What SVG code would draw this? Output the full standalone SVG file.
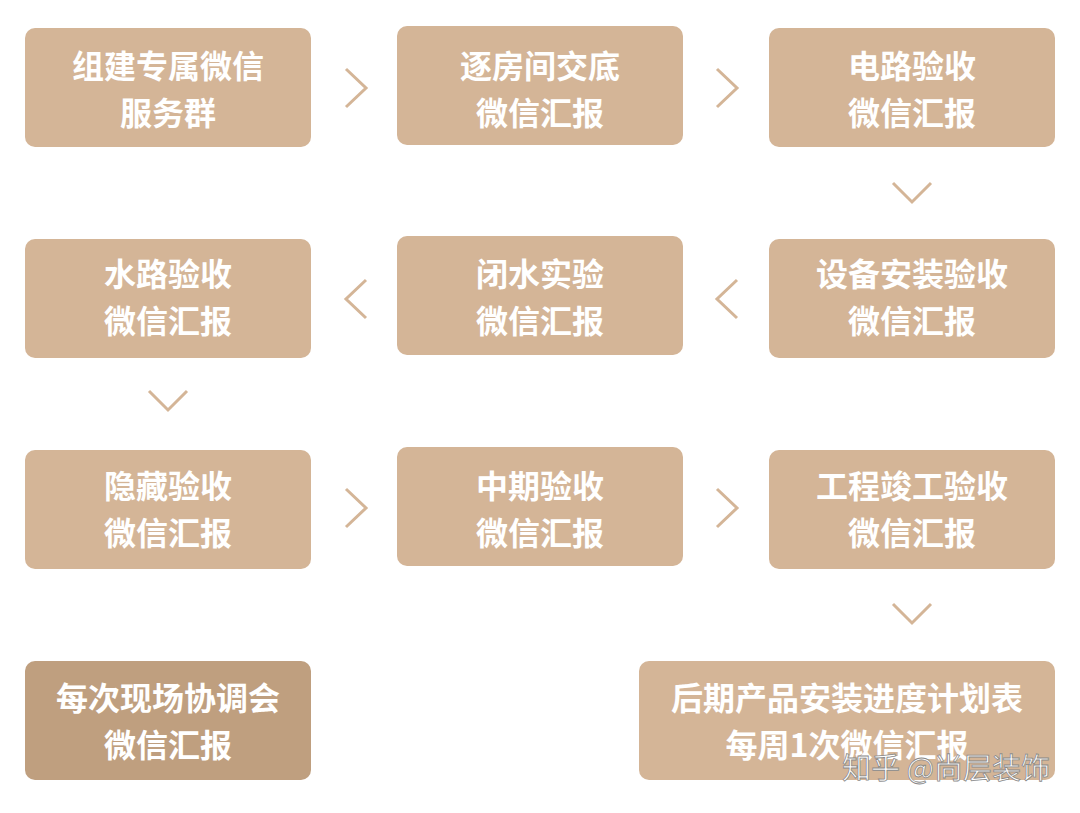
<svg xmlns="http://www.w3.org/2000/svg" width="1080" height="813" viewBox="0 0 1080 813">
<style>
.b{fill:#d4b597}
.d{fill:#bf9f7f}
.t{fill:#fff;font-family:"Noto Sans CJK SC",sans-serif;font-weight:bold;font-size:32px;text-anchor:middle}
.c{fill:none;stroke:#d4b597;stroke-width:3}
</style>
<rect width="1080" height="813" fill="#fff"/>
<g id="n1"><rect class="b" x="25" y="28" width="286" height="119" rx="10"/><text class="t" x="168" y="78">组建专属微信</text><text class="t" x="168" y="125">服务群</text></g>
<g id="n2"><rect class="b" x="397" y="26" width="286" height="119" rx="10"/><text class="t" x="540" y="78">逐房间交底</text><text class="t" x="540" y="125">微信汇报</text></g>
<g id="n3"><rect class="b" x="769" y="28" width="286" height="119" rx="10"/><text class="t" x="912" y="78">电路验收</text><text class="t" x="912" y="125">微信汇报</text></g>
<g id="n4"><rect class="b" x="769" y="239" width="286" height="119" rx="10"/><text class="t" x="912" y="286">设备安装验收</text><text class="t" x="912" y="333">微信汇报</text></g>
<g id="n5"><rect class="b" x="397" y="236" width="286" height="119" rx="10"/><text class="t" x="540" y="286">闭水实验</text><text class="t" x="540" y="333">微信汇报</text></g>
<g id="n6"><rect class="b" x="25" y="239" width="286" height="119" rx="10"/><text class="t" x="168" y="286">水路验收</text><text class="t" x="168" y="333">微信汇报</text></g>
<g id="n7"><rect class="b" x="25" y="450" width="286" height="119" rx="10"/><text class="t" x="168" y="498">隐藏验收</text><text class="t" x="168" y="545">微信汇报</text></g>
<g id="n8"><rect class="b" x="397" y="447" width="286" height="119" rx="10"/><text class="t" x="540" y="498">中期验收</text><text class="t" x="540" y="545">微信汇报</text></g>
<g id="n9"><rect class="b" x="769" y="450" width="286" height="119" rx="10"/><text class="t" x="912" y="498">工程竣工验收</text><text class="t" x="912" y="545">微信汇报</text></g>
<g id="n10"><rect class="d" x="25" y="661" width="286" height="119" rx="10"/><text class="t" x="168" y="710">每次现场协调会</text><text class="t" x="168" y="757">微信汇报</text></g>
<g id="n11"><rect class="b" x="639" y="661" width="416" height="119" rx="10"/><text class="t" x="847" y="710">后期产品安装进度计划表</text><text class="t" x="847" y="757">每周1次微信汇报</text></g>
<g id="connectors">
<polyline class="c" points="346,69 366,88 346,107"/>
<polyline class="c" points="717,69 737,88 717,107"/>
<polyline class="c" points="893,183 912,202 931,183"/>
<polyline class="c" points="737,280 717,299 737,318"/>
<polyline class="c" points="366,280 346,299 366,318"/>
<polyline class="c" points="149,391 168,410 187,391"/>
<polyline class="c" points="346,489 366,508 346,527"/>
<polyline class="c" points="717,489 737,508 717,527"/>
<polyline class="c" points="893,604 912,623 931,604"/>
</g>
<text x="1050" y="779" text-anchor="end" font-family="Noto Sans CJK SC,sans-serif" font-size="29" fill="#fff" stroke="#888" stroke-width="0.8">知乎 @尚层装饰</text>
</svg>
